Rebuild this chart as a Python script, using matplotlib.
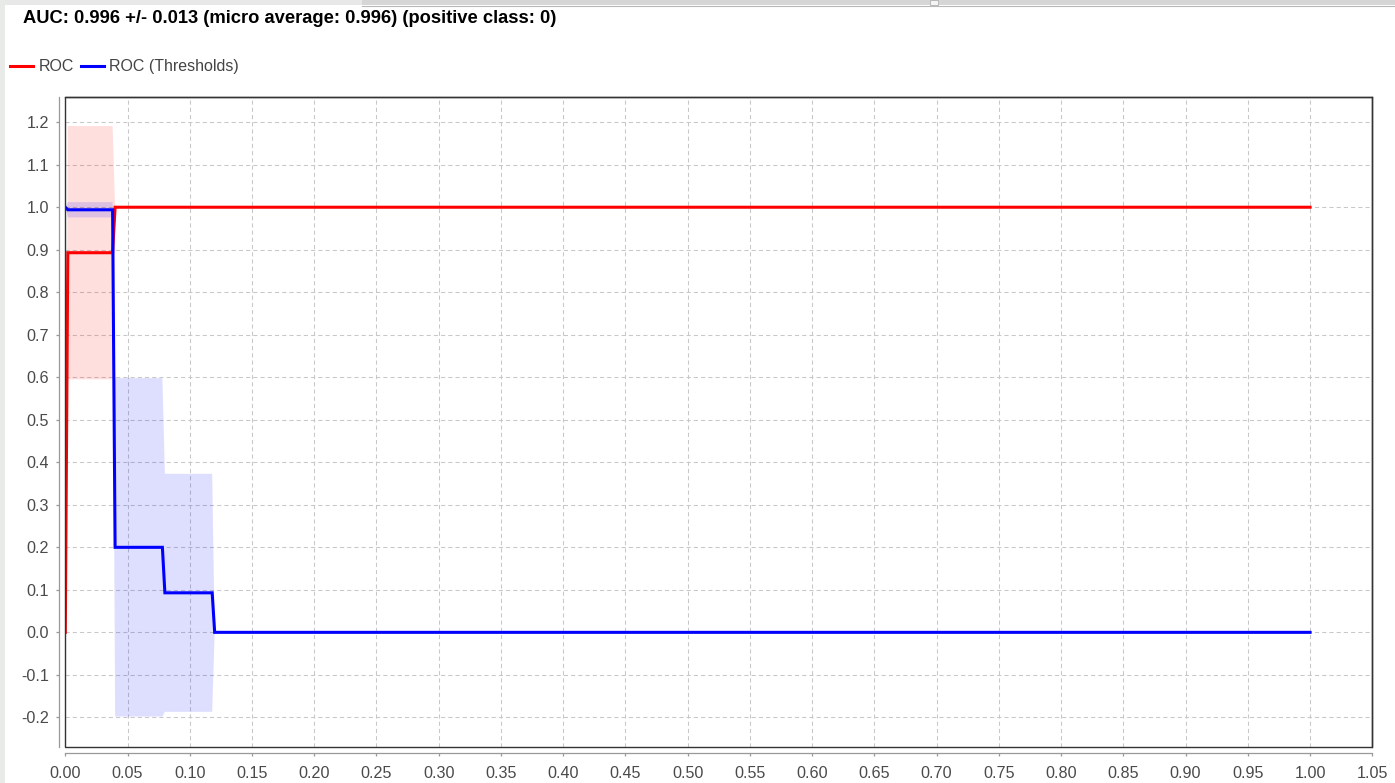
import matplotlib
matplotlib.use("Agg")
import matplotlib.pyplot as plt
from matplotlib.lines import Line2D
from matplotlib.patches import Rectangle
import numpy as np

# ---------------- data ----------------
title_text = "AUC: 0.996 +/- 0.013 (micro average: 0.996) (positive class: 0)"
series_names = ["ROC", "ROC (Thresholds)"]

roc_x = [0.0, 0.002, 0.038, 0.040, 1.0]
roc_y = [0.0, 0.893, 0.893, 1.0, 1.0]
roc_std = [0.0, 0.298, 0.298, 0.0, 0.0]

thr_x = [0.0, 0.002, 0.038, 0.040, 0.078, 0.080, 0.118, 0.120, 1.0]
thr_y = [1.0, 0.994, 0.994, 0.200, 0.200, 0.093, 0.093, 0.0, 0.0]
thr_std = [0.0, 0.018, 0.018, 0.398, 0.398, 0.280, 0.280, 0.0, 0.0]

x_ticks = [round(0.05 * i, 2) for i in range(22)]
x_tick_labels = ["%.2f" % v for v in x_ticks]
y_ticks = [round(-0.2 + 0.1 * i, 1) for i in range(15)]
y_tick_labels = ["%.1f" % v for v in y_ticks]

# ---------------- style ----------------
W, H = 1395, 783
plt.rcParams['font.family'] = ['Liberation Sans', 'DejaVu Sans']
plt.rcParams['axes.unicode_minus'] = False
plt.rcParams['lines.scale_dashes'] = False

fig = plt.figure(figsize=(W / 100, H / 100), dpi=100)
fig.patch.set_facecolor('white')

def fx(px):
    return px / W

def fy(py):
    return 1 - py / H

# window chrome
fig.add_artist(Rectangle((0, fy(5)), fx(W), 5 / H, transform=fig.transFigure,
                         facecolor='#e8e8e8', edgecolor='none'))
fig.add_artist(Rectangle((0, 0), fx(5), 1, transform=fig.transFigure,
                         facecolor='#e8eae8', edgecolor='none'))
fig.add_artist(Rectangle((fx(362), fy(5)), fx(W - 362), 5 / H, transform=fig.transFigure,
                         facecolor='#d6d6d6', edgecolor='none'))
fig.add_artist(Line2D([fx(362), 1], [fy(5.5), fy(5.5)], transform=fig.transFigure,
                      color='#b8b8b8', lw=0.8))
fig.add_artist(Rectangle((fx(930), fy(5)), fx(8), 5 / H, transform=fig.transFigure,
                         facecolor='#f4f4f4', edgecolor='#b0b0b0', lw=0.6))

# axes
left, right, top, bottom = 65.3, 1372.3, 96.7, 746.7
ax = fig.add_axes([fx(left), fy(bottom), fx(right - left), (bottom - top) / H])
ax.set_xlim(0, 1.05)
ax.set_ylim(-0.269, 1.260)

roc_x_a = np.array(roc_x)
roc_y_a = np.array(roc_y)
roc_s_a = np.array(roc_std)
thr_x_a = np.array(thr_x)
thr_y_a = np.array(thr_y)
thr_s_a = np.array(thr_std)

ax.fill_between(roc_x_a, roc_y_a - roc_s_a, roc_y_a + roc_s_a,
                facecolor='#ff0000', alpha=0.13, edgecolor='none', zorder=2)
ax.fill_between(thr_x_a, thr_y_a - thr_s_a, thr_y_a + thr_s_a,
                facecolor='#0000ff', alpha=0.13, edgecolor='none', zorder=2)
ax.plot(roc_x_a, roc_y_a, color='#ff0000', lw=2.2, zorder=3,
        solid_joinstyle='miter', label=series_names[0])
ax.plot(thr_x_a, thr_y_a, color='#0000ff', lw=2.2, zorder=4,
        solid_joinstyle='miter', label=series_names[1])

ax.set_xticks(x_ticks)
ax.set_xticklabels(x_tick_labels)
ax.set_yticks(y_ticks)
ax.set_yticklabels(y_tick_labels)

ax.set_axisbelow(True)
ax.grid(True, color='#c8c8c8', linestyle=(0, (3.0, 2.2)), linewidth=0.75)

for s in ['top', 'right']:
    ax.spines[s].set_color('#333333')
    ax.spines[s].set_linewidth(1.0)
for s in ['left', 'bottom']:
    ax.spines[s].set_position(('outward', 4.8))
    ax.spines[s].set_color('#999999')
    ax.spines[s].set_linewidth(0.9)
# inner frame (left & bottom edges of plot box)
ax.add_patch(Rectangle((0, 0), 1, 1, transform=ax.transAxes, fill=False,
                       edgecolor='#333333', lw=1.0, zorder=6, clip_on=False))

ax.tick_params(axis='both', colors='#999999', labelcolor='#4a4a4a',
               labelsize=11.6, length=2.0, width=0.9)
ax.tick_params(axis='x', pad=7.0)
ax.tick_params(axis='y', pad=5.0)

# title
fig.text(fx(22.7), fy(22.7), title_text, fontsize=13.2, fontweight='bold',
         color='black', va='baseline', ha='left')

# legend (manual)
leg_y = fy(65.7)
fig.add_artist(Line2D([fx(10), fx(33)], [leg_y, leg_y], transform=fig.transFigure,
                      color='#ff0000', lw=2.2))
fig.text(fx(39), fy(70.7), series_names[0], fontsize=11.5, color='#444444',
         va='baseline', ha='left')
fig.add_artist(Line2D([fx(81), fx(104)], [leg_y, leg_y], transform=fig.transFigure,
                      color='#0000ff', lw=2.2))
fig.text(fx(109), fy(70.7), series_names[1], fontsize=11.5, color='#444444',
         va='baseline', ha='left')

fig.savefig("out.png", dpi=100, facecolor='white')
